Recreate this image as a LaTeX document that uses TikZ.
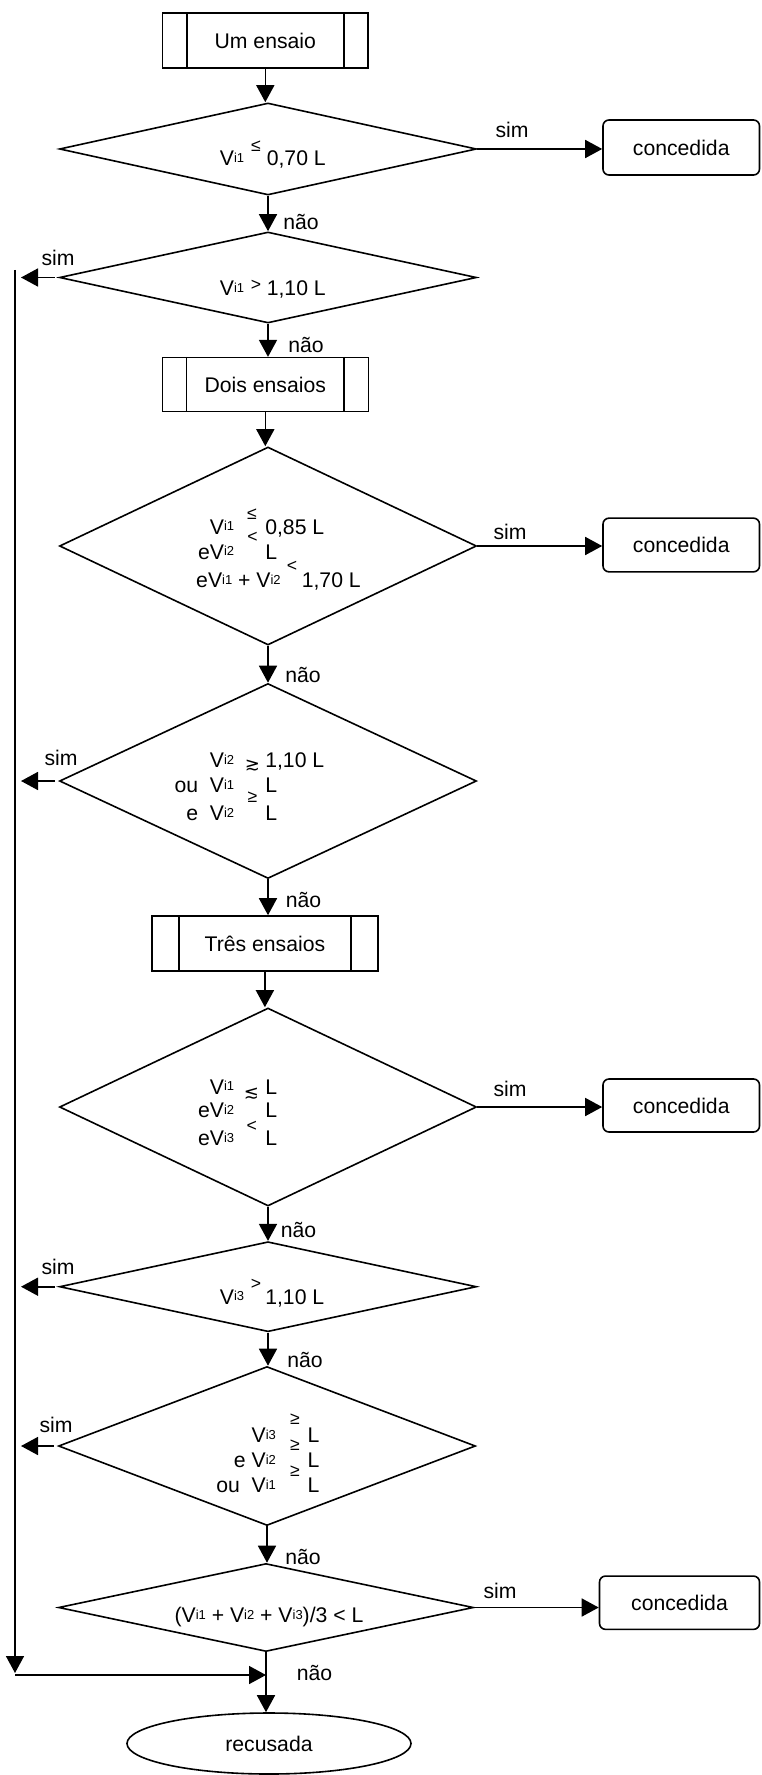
\documentclass[tikz,border=0pt]{standalone}
\usepackage{fontspec}
\setmainfont{Liberation Sans}
\newfontfamily\dejavu{DejaVu Sans}
\usetikzlibrary{shapes.geometric,arrows.meta,calc}
\newcommand\fs{\fontsize{10.6}{12.7}\selectfont}
\newcommand\smf{\fontsize{6.5}{7.5}\selectfont}
\newcommand\symf{\fontsize{8.8}{9.5}\selectfont}
\newcommand\Vx[1]{V\raisebox{1.7pt}{\smf i#1}}
\begin{document}
\begin{tikzpicture}[x=0.5pt,y=-0.5pt, line width=0.8pt,
  every node/.style={font=\fs, inner sep=0pt},
  arr/.style={-{Triangle[length=8.5pt,width=9pt]}},
  dia/.style={draw, diamond, minimum width=208.5pt},
  proc/.style={draw, rectangle, minimum height=27.5pt},
  okbox/.style={draw, rectangle, rounded corners=3pt, minimum width=78.25pt, minimum height=27.5pt},
  lab/.style={anchor=center},
  lt/.style={anchor=base east},
  rt/.style={anchor=base west},
  sym/.style={font=\symf, anchor=center},
  dsym/.style={font=\dejavu\fontsize{9}{10}\selectfont, anchor=center}]
\useasboundingbox (0,0) rectangle (761,1775);

% process boxes
\node[proc, minimum width=102.7pt] (b1) at (265.3,40.8) {Um ensaio};
\draw ($(b1.north west)+(25,0)$) -- ($(b1.south west)+(25,0)$);
\draw ($(b1.north east)+(-25,0)$) -- ($(b1.south east)+(-25,0)$);
\node[proc, minimum width=103pt, minimum height=27pt] (b2) at (265.3,384.7) {Dois ensaios};
\draw ($(b2.north west)+(25,0)$) -- ($(b2.south west)+(25,0)$);
\draw ($(b2.north east)+(-25,0)$) -- ($(b2.south east)+(-25,0)$);
\node[proc, minimum width=112.85pt] (b3) at (264.9,943.5) {Três ensaios};
\draw ($(b3.north west)+(27.5,0)$) -- ($(b3.south west)+(27.5,0)$);
\draw ($(b3.north east)+(-27.5,0)$) -- ($(b3.south east)+(-27.5,0)$);

% decisions
\node[dia, minimum height=46pt] (d1) at (268,149) {};
\node[dia, minimum height=45.5pt] (d2) at (268,277.5) {};
\node[dia, minimum height=99pt] (d3) at (268,546) {};
\node[dia, minimum height=97.5pt] (d4) at (268,781) {};
\node[dia, minimum height=99pt] (d5) at (268,1107) {};
\node[dia, minimum height=45pt] (d6) at (268,1286.7) {};
\node[dia, minimum height=79.5pt] (d7) at (267,1446) {};
\node[dia, minimum height=44pt, minimum width=207.5pt] (d8) at (266,1607.5) {};

% outcomes
\node[okbox] (c1) at (681.25,147.5) {concedida};
\node[okbox, minimum height=26.85pt] (c2) at (681.25,545) {concedida};
\node[okbox, minimum height=26.5pt] (c3) at (681.25,1105.5) {concedida};
\node[okbox, minimum width=80pt, minimum height=26.65pt] (c4) at (679.5,1602.7) {concedida};
\node[draw, ellipse, minimum width=142pt, minimum height=30.5pt] (rec) at (269,1743.5) {recusada};

% texts of decisions
\node[lt] (t1a) at (245,165.6) {\Vx1};
\node[sym] (t1s) at (256,146) {≤};
\node[rt] (t1b) at (266,165.6) {0,70 L};

\node[lt] (t2a) at (245,295.6) {\Vx1};
\node[sym] (t2s) at (256,285) {>};
\node[rt] (t2b) at (266,295.6) {1,10 L};

\node[lt] (t3a) at (235,534.3) {\Vx1};
\node[sym] (t3as) at (252,514) {≤};
\node[rt] (t3ab) at (264.5,534.3) {0,85 L};
\node[lt] (t3b) at (235,559.3) {e\Vx2};
\node[sym] (t3bs) at (252.5,537.5) {<};
\node[rt] (t3bb) at (264.5,559.3) {L};
\node[lt] (t3c) at (281.5,587.6) {e\Vx1 + \Vx2};
\node[sym] (t3cs) at (292,566) {<};
\node[rt] (t3cb) at (301,587.6) {1,70 L};

\node[lt] (t4a) at (235,767.6) {\Vx2};
\node[rt] (t4ab) at (264.5,767.6) {1,10 L};
\node[lt] (t4b) at (235,792.6) {ou~~\Vx1};
\node[rt] (t4bb) at (264.5,792.6) {L};
\node[lt] (t4c) at (235,820.6) {e~~\Vx2};
\node[rt] (t4cb) at (264.5,820.6) {L};
\node[dsym] (t4s1) at (252.5,766) {≳};
\node[sym] (t4s3) at (252.5,797.5) {≥};

\node[lt] (t5a) at (235,1094.3) {\Vx1};
\node[rt] (t5ab) at (264.5,1094.3) {L};
\node[lt] (t5b) at (235,1117.6) {e\Vx2};
\node[rt] (t5bb) at (264.5,1117.6) {L};
\node[lt] (t5c) at (235,1145.6) {e\Vx3};
\node[rt] (t5cb) at (264.5,1145.6) {L};
\node[dsym] (t5s1) at (251.5,1094) {≲};
\node[sym] (t5s3) at (251.7,1126.7) {<};

\node[lt] (t6a) at (245,1304.3) {\Vx3};
\node[sym] (t6s) at (256,1284) {>};
\node[rt] (t6b) at (264.5,1304.3) {1,10 L};

\node[lt] (t7a) at (276.7,1442.6) {\Vx3};
\node[rt] (t7ab) at (306.7,1442.6) {L};
\node[lt] (t7b) at (276.7,1467.6) {e \Vx2};
\node[rt] (t7bb) at (306.7,1467.6) {L};
\node[lt] (t7c) at (276.7,1492.6) {ou~~\Vx1};
\node[rt] (t7cb) at (306.7,1492.6) {L};
\node[sym] (t7s1) at (295,1419) {≥};
\node[sym] (t7s2) at (295,1445.5) {≥};
\node[sym] (t7s3) at (295,1471.5) {≥};

\node[anchor=base] (t8) at (269,1622.6) {(\Vx1 + \Vx2 + \Vx3)/3 < L};

% sim / nao labels
\node[lab] (s1) at (512,130) {sim};
\node[lab] (s2) at (58,258) {sim};
\node[lab] (s3) at (510,531.7) {sim};
\node[lab] (s4) at (61,758) {sim};
\node[lab] (s5) at (510,1089) {sim};
\node[lab] (s6) at (58,1266.7) {sim};
\node[lab] (s7) at (56,1425) {sim};
\node[lab] (s8) at (500,1590.7) {sim};
\node[lab] (n1) at (301,222) {não};
\node[lab] (n2) at (306,345) {não};
\node[lab] (n3) at (303,675) {não};
\node[lab] (n4) at (303.5,900) {não};
\node[lab] (n5) at (298.5,1230) {não};
\node[lab] (n6) at (305,1360) {não};
\node[lab] (n7) at (303,1556.7) {não};
\node[lab] (n8) at (314.6,1673.3) {não};

% connectors
\coordinate (lx) at (21,0);
\coordinate (vt) at (15,270);
\coordinate (vb) at (15,1673);
\coordinate (hb) at (15,1675);

\draw[arr] (b1.south) -- (b1.south |- d1.north);
\draw[arr] (d1.east) -- (d1.east -| c1.west);
\draw[arr] (d1.south) -- (d2.north);
\draw[arr] ([xshift=-2pt]d2.west) -- (d2.west -| lx);
\draw[arr] (d2.south) -- (d2.south |- b2.north);
\draw[arr] (b2.south) -- (b2.south |- d3.north);
\draw[arr] (d3.east) -- (d3.east -| c2.west);
\draw[arr] (d3.south) -- (d4.north);
\draw[arr] ([xshift=-2pt]d4.west) -- (d4.west -| lx);
\draw[arr] (d4.south) -- (d4.south |- b3.north);
\draw[arr] (b3.south) -- (b3.south |- d5.north);
\draw[arr] (d5.east) -- (d5.east -| c3.west);
\draw[arr] (d5.south) -- (d6.north);
\draw[arr] ([xshift=-2pt]d6.west) -- (d6.west -| lx);
\draw[arr] (d6.south) -- (d6.south |- d7.north);
\draw[arr] ([xshift=-2pt]d7.west) -- (d7.west -| lx);
\draw[arr] (d7.south) -- (d7.south |- d8.north);
\draw[arr] (d8.east) -- (d8.east -| c4.west);
\draw[arr] (d8.south) -- (d8.south |- rec.north);
\draw[arr] (vt) -- (vb);
\draw[arr] (hb) -- (hb -| d8.south);
\end{tikzpicture}
\end{document}
